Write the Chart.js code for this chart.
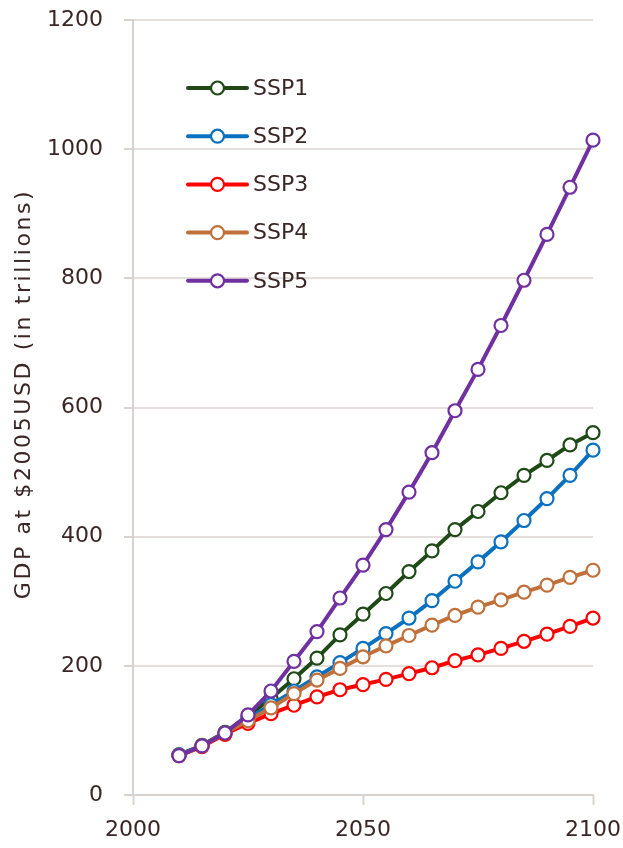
<!DOCTYPE html>
<html>
<head>
<meta charset="utf-8">
<script src="https://cdn.jsdelivr.net/npm/chart.js@4/dist/chart.umd.min.js"></script>
<style>
  body { margin: 0; background: #fff; }
</style>
</head>
<body>
<canvas id="gdpChart" width="623" height="848"></canvas>
<script>
const years = [2010, 2015, 2020, 2025, 2030, 2035, 2040, 2045, 2050, 2055, 2060, 2065, 2070, 2075, 2080, 2085, 2090, 2095, 2100];
const ssp1 = [62, 77, 97, 122, 150, 180, 212, 248, 280, 312, 346, 378, 411, 439, 468, 495, 518, 542, 561];
const ssp2 = [62, 76, 96, 118, 140, 161, 183, 205, 227, 250, 274, 301, 331, 361, 392, 425, 459, 495, 534];
const ssp3 = [61, 75, 94, 111, 126, 139, 152, 163, 171, 179, 188, 197, 208, 217, 227, 238, 249, 261, 274];
const ssp4 = [61, 76, 96, 115, 135, 157, 178, 196, 214, 231, 247, 263, 278, 291, 302, 314, 325, 337, 348];
const ssp5 = [61, 76, 96, 124, 161, 207, 253, 305, 356, 411, 469, 530, 595, 659, 727, 797, 868, 941, 1014];
const seriesNames = ['SSP1', 'SSP2', 'SSP3', 'SSP4', 'SSP5'];
const seriesColors = ['#1f4a17', '#0a70c0', '#ff0000', '#c0703a', '#7030a0'];
const yTitle = 'GDP at $2005USD (in trillions)';

const textColor = '#3a2624';
const axisColor = '#d9d3d0';
const fontFamily = '"DejaVu Sans", sans-serif';

const allSeries = [ssp1, ssp2, ssp3, ssp4, ssp5];
const datasets = allSeries.map((vals, i) => ({
  label: seriesNames[i],
  data: vals.map((v, j) => ({ x: years[j], y: v })),
  borderColor: seriesColors[i],
  borderWidth: 4,
  pointRadius: 6.5,
  pointBorderWidth: 2.2,
  pointBackgroundColor: '#fff',
  pointBorderColor: seriesColors[i],
  tension: 0,
  clip: false,
  order: allSeries.length - 1 - i  // later series sit on top
}));

// legend drawn inside the plot, upper left
const insideLegend = {
  id: 'insideLegend',
  afterDraw(chart) {
    const ctx = chart.ctx;
    ctx.save();
    ctx.font = '22px ' + fontFamily;
    ctx.textBaseline = 'middle';
    chart.data.datasets.forEach((ds, i) => {
      const y = 88 + i * 48.2;
      ctx.strokeStyle = ds.borderColor;
      ctx.lineWidth = 4;
      ctx.lineCap = 'round';
      ctx.beginPath();
      ctx.moveTo(188, y);
      ctx.lineTo(247, y);
      ctx.stroke();
      ctx.beginPath();
      ctx.arc(217.5, y, 6.5, 0, Math.PI * 2);
      ctx.fillStyle = '#fff';
      ctx.fill();
      ctx.lineWidth = 2.2;
      ctx.stroke();
      ctx.fillStyle = textColor;
      ctx.fillText(ds.label, 253, y + 1);
    });
    ctx.restore();
  }
};

// rotated y-axis title with a bit of tracking
const axisTitle = {
  id: 'axisTitle',
  afterDraw(chart) {
    const ctx = chart.ctx;
    ctx.save();
    ctx.translate(24, 394);
    ctx.rotate(-Math.PI / 2);
    ctx.font = '22px ' + fontFamily;
    ctx.letterSpacing = '2.6px';
    ctx.fillStyle = textColor;
    ctx.textAlign = 'center';
    ctx.textBaseline = 'middle';
    ctx.fillText(yTitle, 0, 0);
    ctx.restore();
  }
};

new Chart(document.getElementById('gdpChart'), {
  type: 'line',
  data: { datasets },
  plugins: [insideLegend, axisTitle],
  options: {
    responsive: false,
    animation: false,
    layout: { autoPadding: false, padding: { top: 20, right: 30, bottom: 0, left: 0 } },
    plugins: {
      legend: { display: false },
      tooltip: { enabled: false }
    },
    scales: {
      x: {
        type: 'linear',
        min: 2000,
        max: 2100,
        afterFit: s => { s.height = 53; s.paddingLeft = 0; s.paddingRight = 0; },
        ticks: {
          stepSize: 50,
          color: textColor,
          font: { family: fontFamily, size: 22 },
          padding: 12,
          maxRotation: 0,
          callback: v => String(v)
        },
        grid: {
          drawOnChartArea: false,
          drawTicks: true,
          tickLength: 10,
          tickColor: axisColor,
          tickWidth: 2
        },
        border: { color: axisColor, width: 2 }
      },
      y: {
        min: 0,
        max: 1200,
        afterFit: s => { s.width = 133; s.paddingTop = 0; s.paddingBottom = 0; },
        ticks: {
          stepSize: 200,
          color: textColor,
          font: { family: fontFamily, size: 22 },
          padding: 21,
          callback: v => String(v)
        },
        grid: {
          color: c => c.tick && c.tick.value === 0 ? 'rgba(0,0,0,0)' : '#e4dfdc',
          lineWidth: 2,
          borderDash: [10, 7],
          tickBorderDash: [],
          tickLength: 9,
          tickColor: axisColor,
          tickWidth: 2
        },
        border: { color: axisColor, width: 2 }
      }
    }
  }
});
</script>
</body>
</html>
